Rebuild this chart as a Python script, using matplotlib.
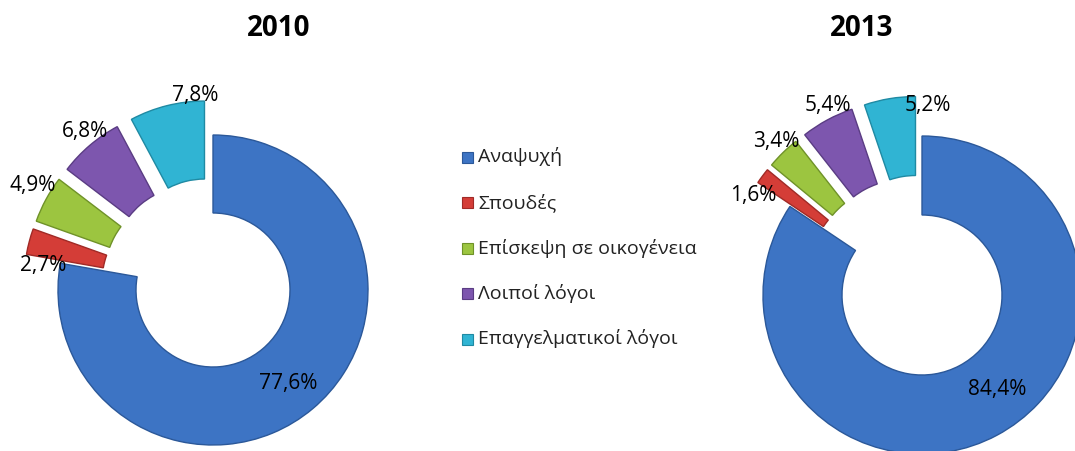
import matplotlib
matplotlib.use("Agg")
import matplotlib.pyplot as plt
from matplotlib.patches import Rectangle

# ---- data ----
categories = ["Αναψυχή", "Σπουδές", "Επίσκεψη σε οικογένεια", "Λοιποί λόγοι", "Επαγγελματικοί λόγοι"]
years = ["2010", "2013"]
values_2010 = [77.6, 2.7, 4.9, 6.8, 7.8]
values_2013 = [84.4, 1.6, 3.4, 5.4, 5.2]

colors = ["#3D74C4", "#D43D37", "#9CC540", "#7D56AE", "#30B4D3"]
edges = ["#2B5899", "#A02A26", "#6F9228", "#5A3C83", "#1F8AA3"]

W, H = 1075, 451
fig = plt.figure(figsize=(W / 100, H / 100), dpi=100)
ax = fig.add_axes([0, 0, 1, 1])
ax.set_xlim(0, W)
ax.set_ylim(0, H)
ax.axis("off")

FONT = ["Open Sans", "DejaVu Sans"]

def fmt(v):
    return f"{v:.1f}".replace(".", ",") + "%"

# layout (pixel coordinates, y measured from top)
pies = [
    dict(vals=values_2010, center=(213, 290), R=155, rin=77, expl=35,
         title_xy=(279, 29),
         label_xy=[(288, 383), (43, 265), (33, 185), (85, 132), (195, 95)]),
    dict(vals=values_2013, center=(922, 295), R=159, rin=80, expl=40,
         title_xy=(862, 29),
         label_xy=[(997, 390), (753, 196), (776, 141), (828, 105), (928, 105)]),
]

for yr, p in zip(years, pies):
    cx, cy = p["center"]
    explode = [0] + [p["expl"]] * (len(p["vals"]) - 1)
    wedges, _ = ax.pie(p["vals"], colors=colors, startangle=90, counterclock=False,
                       radius=p["R"], center=(cx, H - cy), explode=explode,
                       frame=True,
                       wedgeprops=dict(width=p["R"] - p["rin"], linewidth=1.0))
    for w, ec in zip(wedges, edges):
        w.set_edgecolor(ec)
    for v, (lx, ly) in zip(p["vals"], p["label_xy"]):
        ax.text(lx, H - ly, fmt(v), ha="center", va="center", fontsize=15,
                family=FONT, color="black")
    tx, ty = p["title_xy"]
    ax.text(tx, H - ty, yr, ha="center", va="center", fontsize=20,
            fontweight="bold", family=FONT, color="black")

ax.set_xlim(0, W)
ax.set_ylim(0, H)
ax.axis("off")

# legend
leg_x = 462
leg_y0 = 157
leg_dy = 45.5
for i, (cat, c, ec) in enumerate(zip(categories, colors, edges)):
    y = H - (leg_y0 + i * leg_dy)
    ax.add_patch(Rectangle((leg_x, y - 5.5), 11, 11, facecolor=c, edgecolor=ec, lw=0.8))
    ax.text(leg_x + 16, y, cat, ha="left", va="center", fontsize=14,
            family=FONT, color="#222222")

fig.savefig("out.png", dpi=100)
